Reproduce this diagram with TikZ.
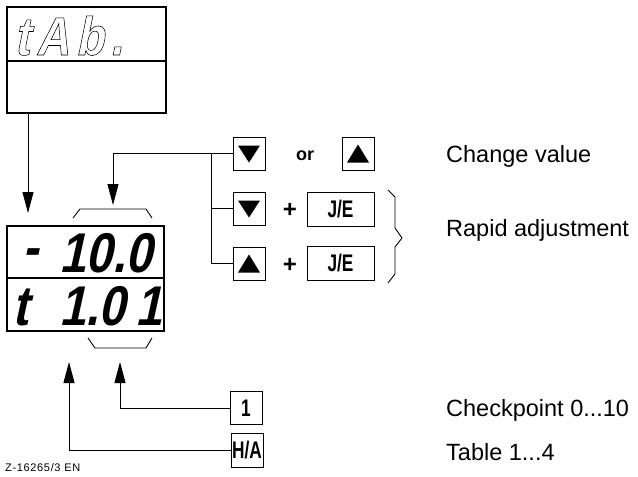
\documentclass[tikz,border=0pt]{standalone}
\usepackage{fontspec}
\setmainfont{Liberation Sans}
\newfontfamily\segfont[FakeSlant=0.22,FakeStretch=0.85]{Liberation Sans Bold}
\newfontfamily\outfont[FakeSlant=0.2,FakeStretch=0.85,LetterSpace=12,FakeBold=1.0]{Liberation Sans Bold}
\newfontfamily\keyfont[FakeStretch=0.72]{Liberation Sans Bold}
\newfontfamily\codefont[LetterSpace=6]{Liberation Sans}
\usetikzlibrary{arrows.meta}
\begin{document}
\begin{tikzpicture}[x=1pt,y=-1pt,
  conn/.style={line width=0.9pt},
  arr/.style={conn,-{Triangle[length=21pt,width=11pt]}},
  disp/.style={draw,line width=1.4pt,inner sep=0pt,minimum width=159pt,minimum height=106pt},
  seg/.style={anchor=base west,inner sep=0pt,font=\segfont\fontsize{56}{56}\selectfont},
  key/.style={draw,line width=1pt,inner sep=0pt,minimum width=32pt,minimum height=33pt,
    font=\keyfont\fontsize{24}{24}\selectfont},
  wkey/.style={key,minimum width=67pt,minimum height=34pt},
  plus/.style={inner sep=0pt,font=\bfseries\fontsize{24}{24}\selectfont},
  lbl/.style={anchor=base west,inner sep=0pt,font=\fontsize{23.5}{24}\selectfont}
]
\useasboundingbox (0,0) rectangle (638,477);

% displays
\node[disp] (top) at (86.5,60) {};
\draw[line width=1.2pt] (top.west |- 0,61) -- (top.east |- 0,61);
\begin{scope}
\node[anchor=base west,inner sep=0pt,font=\outfont\fontsize{54}{54}\selectfont] (tab) at (14,55)
  {\special{pdf:literal direct 1 g}tAb.\special{pdf:literal direct 0 g}};
\end{scope}

\node[disp,minimum width=157pt,minimum height=105pt] (low) at (85.5,278.5) {};
\draw[line width=1.2pt] (low.west |- 0,278) -- (low.east |- 0,278);
\node[seg] (minus) at (22,266) {-};
\node[seg] (v1) at (59,272) {10.0};
\node[seg] (tt) at (12,325) {t};
\node[seg] (v2) at (59,325) {1.0};
\node[seg] (v3) at (135,325) {1};

% keys
\node[key] (k1) at (249,153.5) {};
\node[inner sep=0pt,font=\bfseries\fontsize{18}{18}\selectfont] (or) at (305,156) {or};
\node[key] (k2) at (358,153.5) {};
\node[key] (k3) at (249,208.5) {};
\node[plus] (p1) at (290,210) {+};
\node[wkey] (je1) at (340.5,209.5) {J/E};
\node[key] (k4) at (249,263.5) {};
\node[plus] (p2) at (290,265) {+};
\node[wkey] (je2) at (340.5,263.5) {J/E};
\node[key] (one) at (246,408) {1};
\node[key,minimum height=34pt] (ha) at (247,450) {H/A};

\fill (k1.center) ++(-11,-8) -- ++(22,0) -- ++(-11,17) -- cycle;
\fill (k3.center) ++(-11,-8) -- ++(22,0) -- ++(-11,17) -- cycle;
\fill (k2.center) ++(-11,9) -- ++(22,0) -- ++(-11,-18) -- cycle;
\fill (k4.center) ++(-11,9) -- ++(22,0) -- ++(-11,-18) -- cycle;

% connectors
\coordinate (t1) at (28,213);
\draw[arr] (top.south -| t1) -- (t1);
\coordinate (t2) at (113,205);
\draw[arr] (k1.west) -- (k1.west -| t2) -- (t2);
\coordinate (br) at (211,0);
\draw[conn] (k1.west -| br) |- (k3.west);
\draw[conn] (k1.west -| br) |- (k4.west);
\coordinate (t3) at (120,362);
\draw[arr] (one.west) -| (t3);
\coordinate (t4) at (69,362);
\draw[arr] (ha.west) -| (t4);

% brackets
\draw[conn] (73,218) -- (80,209) -- (146,209) -- (152,218);
\draw[conn] (88,338) -- (95,348) -- (146,348) -- (152,338);
\draw[conn] (388,190) -- (395,197) -- (395,228) -- (402,238) -- (395,247) -- (395,274) -- (388,283);

% labels
\node[lbl] (cv) at (446,162) {Change value};
\node[lbl] (ra) at (446,236) {Rapid adjustment};
\node[lbl] (cp) at (446,416) {Checkpoint 0...10};
\node[lbl] (tb) at (446,460) {Table 1...4};
\node[anchor=base west,inner sep=0pt,font=\codefont\fontsize{11}{11}\selectfont] (code) at (5,471) {Z-16265/3 EN};
\end{tikzpicture}
\end{document}
